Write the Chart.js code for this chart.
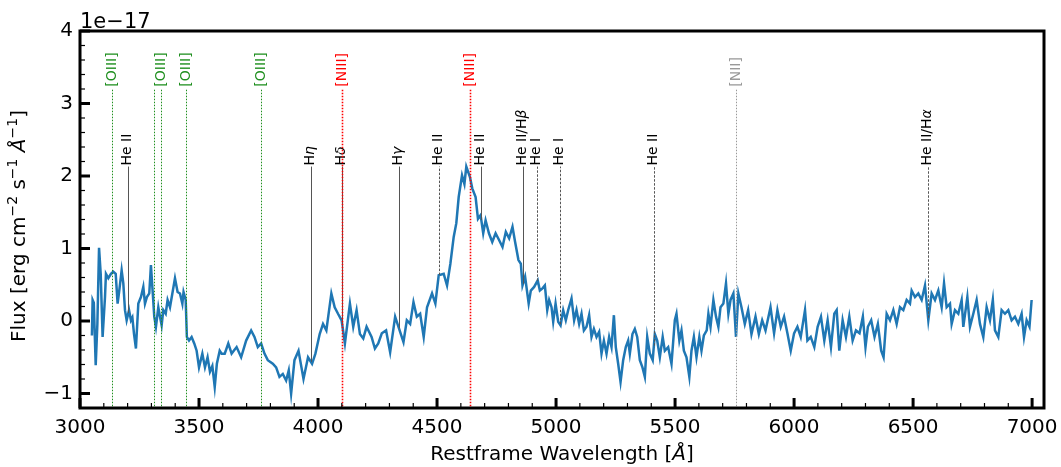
<!DOCTYPE html>
<html>
<head>
<meta charset="utf-8">
<script src="https://cdn.jsdelivr.net/npm/chart.js@4.4.1/dist/chart.umd.min.js"></script>
<style>
  html, body { margin: 0; padding: 0; background: #fff; }
  #wrap { width: 1061px; height: 467px; }
</style>
</head>
<body>
<div id="wrap"><canvas id="spectrum" width="1061" height="467"></canvas></div>
<script>
// restframe wavelength [A] and flux [1e-17 erg/cm2/s/A]
const wavelength = [
  3050, 3053, 3058, 3066, 3073, 3080, 3087, 3095, 3105, 3109, 3119, 3130, 3140, 3150, 3158, 3165,
  3175, 3182, 3189, 3196, 3206, 3214, 3220, 3227, 3235, 3245, 3256, 3266, 3273, 3281, 3291, 3298,
  3305, 3312, 3319, 3329, 3336, 3343, 3350, 3360, 3368, 3378, 3388, 3399, 3410, 3420, 3430, 3435,
  3444, 3449, 3458, 3469, 3480, 3490, 3500, 3514, 3525, 3536, 3546, 3556, 3566, 3575, 3587, 3595,
  3608, 3623, 3637, 3658, 3677, 3698, 3719, 3733, 3747, 3761, 3775, 3789, 3810, 3824, 3838, 3852,
  3866, 3877, 3887, 3901, 3918, 3939, 3958, 3975, 3989, 4007, 4021, 4035, 4056, 4070, 4084, 4099,
  4113, 4134, 4148, 4162, 4176, 4190, 4204, 4225, 4239, 4253, 4268, 4286, 4303, 4324, 4338, 4359,
  4373, 4387, 4401, 4415, 4429, 4444, 4458, 4479, 4493, 4507, 4528, 4542, 4556, 4570, 4581, 4591,
  4605, 4615, 4623, 4638, 4648, 4662, 4672, 4683, 4694, 4704, 4718, 4732, 4746, 4760, 4775, 4789,
  4803, 4817, 4828, 4842, 4852, 4859, 4870, 4885, 4894, 4908, 4923, 4932, 4943, 4953, 4963, 4971,
  4981, 4988, 4998, 5009, 5019, 5030, 5041, 5051, 5065, 5076, 5086, 5097, 5107, 5117, 5128, 5139,
  5149, 5159, 5170, 5181, 5191, 5201, 5212, 5223, 5233, 5243, 5251, 5261, 5271, 5282, 5293, 5303,
  5310, 5321, 5331, 5341, 5352, 5363, 5373, 5383, 5394, 5406, 5415, 5425, 5436, 5448, 5457, 5471,
  5485, 5499, 5506, 5518, 5527, 5537, 5548, 5560, 5569, 5579, 5590, 5602, 5611, 5621, 5633, 5640,
  5649, 5661, 5672, 5682, 5691, 5703, 5714, 5724, 5733, 5745, 5756, 5766, 5779, 5793, 5807, 5821,
  5838, 5852, 5866, 5880, 5901, 5916, 5930, 5944, 5958, 5972, 5986, 6000, 6014, 6028, 6046, 6056,
  6070, 6085, 6099, 6113, 6127, 6141, 6155, 6169, 6179, 6190, 6204, 6218, 6232, 6246, 6260, 6275,
  6289, 6300, 6310, 6324, 6338, 6352, 6366, 6376, 6389, 6403, 6417, 6431, 6445, 6459, 6473, 6487,
  6494, 6508, 6522, 6536, 6550, 6564, 6578, 6592, 6606, 6620, 6630, 6641, 6655, 6662, 6676, 6690,
  6704, 6711, 6728, 6739, 6753, 6767, 6781, 6795, 6809, 6823, 6835, 6844, 6858, 6872, 6886, 6900,
  6914, 6928, 6942, 6956, 6966, 6977, 6989, 6998
]
const flux = [
  -0.20, 0.29, 0.25, -0.61, -0.04, 1.01, 0.65, -0.22, 0.33, 0.65, 0.59, 0.65, 0.68, 0.65, 0.24, 0.42,
  0.70, 0.52, 0.15, 0.01, 0.15, 0.01, 0.05, -0.18, -0.38, 0.24, 0.33, 0.47, 0.24, 0.33, 0.38, 0.77,
  0.42, 0.06, -0.08, 0.19, 0.06, -0.06, 0.15, 0.10, 0.29, 0.19, 0.38, 0.59, 0.40, 0.38, 0.24, 0.40,
  0.29, -0.22, -0.27, -0.22, -0.31, -0.41, -0.64, -0.45, -0.64, -0.50, -0.70, -0.62, -0.91, -0.59, -0.41, -0.45,
  -0.45, -0.31, -0.45, -0.36, -0.50, -0.27, -0.13, -0.22, -0.36, -0.31, -0.45, -0.54, -0.59, -0.64, -0.77, -0.73,
  -0.82, -0.68, -1.00, -0.54, -0.41, -0.80, -0.50, -0.59, -0.45, -0.18, -0.04, -0.13, 0.38, 0.19, 0.10, 0.01,
  -0.31, 0.24, -0.08, 0.15, -0.18, -0.24, -0.08, -0.22, -0.38, -0.31, -0.17, -0.13, -0.43, 0.06, -0.08, -0.29,
  0.01, -0.04, 0.26, 0.06, 0.10, -0.22, 0.19, 0.38, 0.24, 0.63, 0.65, 0.49, 0.79, 1.16, 1.35, 1.71,
  2.01, 1.89, 2.13, 1.99, 1.83, 1.71, 1.41, 1.46, 1.21, 1.39, 1.21, 1.09, 1.21, 1.12, 1.02, 1.23,
  1.14, 1.30, 1.09, 0.84, 0.79, 0.49, 0.61, 0.24, 0.42, 0.47, 0.56, 0.42, 0.45, 0.49, 0.15, 0.29,
  0.19, -0.01, 0.24, -0.01, -0.06, 0.15, 0.01, 0.15, 0.31, 0.01, 0.15, -0.04, 0.10, -0.13, -0.08, 0.08,
  -0.22, -0.11, -0.22, -0.15, -0.45, -0.27, -0.45, -0.22, -0.36, 0.08, -0.36, -0.59, -0.84, -0.54, -0.36, -0.27,
  -0.45, -0.18, -0.11, -0.22, -0.54, -0.64, -0.77, -0.22, -0.45, -0.54, -0.18, -0.27, -0.50, -0.22, -0.41, -0.36,
  -0.59, 0.01, 0.10, -0.27, -0.13, -0.41, -0.50, -0.77, -0.41, -0.22, -0.50, -0.22, -0.41, -0.20, -0.13, 0.10,
  -0.08, 0.29, 0.06, -0.08, 0.19, 0.24, 0.52, 0.10, 0.29, 0.38, -0.22, 0.38, 0.19, -0.04, 0.15, -0.18,
  0.06, -0.18, 0.01, -0.13, 0.19, -0.17, 0.15, -0.08, 0.06, -0.17, -0.41, -0.17, -0.08, -0.22, 0.15, -0.27,
  -0.22, -0.36, -0.08, 0.06, -0.27, 0.01, -0.36, 0.10, 0.15, -0.41, 0.01, -0.22, 0.06, -0.27, -0.13, -0.17,
  0.06, -0.36, -0.08, 0.01, -0.22, -0.04, -0.41, -0.50, 0.10, 0.01, 0.15, -0.04, 0.19, 0.15, 0.29, 0.24,
  0.42, 0.33, 0.38, 0.29, 0.49, 0.01, 0.38, 0.29, 0.42, 0.19, 0.52, 0.19, 0.24, -0.04, 0.15, 0.10,
  0.29, -0.08, 0.33, -0.08, 0.10, 0.29, -0.04, -0.22, 0.19, 0.01, 0.29, -0.13, -0.22, 0.15, 0.10, 0.15,
  0.01, 0.06, -0.04, 0.10, -0.22, 0.01, -0.08, 0.29
]

// forbidden lines, marked over the full height ('' = line drawn without its own label)
const forbiddenNames = ['[OIII]', '', '[OIII]', '[OIII]', '[OIII]', '[NIII]', '[NIII]', '[NII]']
const forbiddenWaves = [3133, 3312, 3341, 3444, 3760, 4100, 4640, 5755]
const forbiddenIons  = ['[OIII]', '[OIII]', '[OIII]', '[OIII]', '[OIII]', '[NIII]', '[NIII]', '[NII]']

// permitted lines, marked from the spectrum up to the label
const permittedNames = ['He II', 'H\u03B7', 'H\u03B4', 'H\u03B3', 'He II', 'He II', 'He II/H\u03B2', 'He I', 'He I', 'He II', 'He II/H\u03B1']
const permittedWaves = [3203, 3970, 4102, 4340, 4510, 4686, 4861, 4922, 5016, 5411, 6563]

const xTicks = [3000, 3500, 4000, 4500, 5000, 5500, 6000, 6500, 7000]
const yTicks = [-1, 0, 1, 2, 3, 4]

// styles
const ionColor = { '[OIII]': '#1f8f1f', '[NIII]': '#ff0000', '[NII]': '#999999' }
const dashedWaves = [4510, 4922, 5016, 5411, 6563]
const FONT = 'DejaVu Sans'

Chart.defaults.font.family = FONT
Chart.defaults.color = '#000'

function fluxAt(w) {
    let i = wavelength.findIndex(v => v >= w)
    if (i <= 0) return flux[Math.max(i, 0)]
    const t = (w - wavelength[i - 1]) / (wavelength[i] - wavelength[i - 1])
    return flux[i - 1] + t * (flux[i] - flux[i - 1])
}

// rotated (-90deg) text made of runs [text, size, raise, italic]; align 'center' or 'start'
function vText(ctx, x, y, parts, align) {
    ctx.save()
    ctx.translate(x, y)
    ctx.rotate(-Math.PI / 2)
    const fontOf = p => (p[3] ? 'italic ' : '') + p[1] + 'px "' + FONT + '"'
    let total = 0
    parts.forEach(p => { ctx.font = fontOf(p); total += ctx.measureText(p[0]).width })
    let cx = align === 'start' ? 0 : -total / 2
    ctx.textAlign = 'left'
    ctx.textBaseline = 'middle'
    parts.forEach(p => {
        ctx.font = fontOf(p)
        ctx.fillText(p[0], cx, -p[2])
        cx += ctx.measureText(p[0]).width
    })
    ctx.restore()
}

// greek letters in the line names are set in italic, as in math text
function nameRuns(name, size) {
    return name.split(/([\u03B1-\u03C9])/).filter(s => s).map(s => [s, size, 0, /[\u03B1-\u03C9]/.test(s)])
}

const markers = {
    id: 'markers',
    afterDatasetsDraw(chart) {
        const { ctx, scales: { x, y } } = chart
        ctx.save()
        // permitted lines: thin grey from the spectrum up to the label
        permittedWaves.forEach((w, i) => {
            const px = Math.round(x.getPixelForValue(w)) + 0.5
            const top = y.getPixelForValue(2.13)
            ctx.beginPath()
            ctx.setLineDash(dashedWaves.includes(w) ? [2.5, 1.5] : [])
            ctx.strokeStyle = '#555'
            ctx.lineWidth = 1
            ctx.moveTo(px, y.getPixelForValue(fluxAt(w)))
            ctx.lineTo(px, top)
            ctx.stroke()
            ctx.fillStyle = '#000'
            vText(ctx, px - 1, top - 1, nameRuns(permittedNames[i], 14), 'start')
        })
        // forbidden lines: coloured dotted over the whole plot
        forbiddenWaves.forEach((w, i) => {
            const col = ionColor[forbiddenIons[i]]
            const px = Math.round(x.getPixelForValue(w)) + 0.5
            const top = y.getPixelForValue(3.19)
            ctx.beginPath()
            ctx.setLineDash([1.5, 1.5])
            ctx.strokeStyle = col
            ctx.lineWidth = forbiddenIons[i] === '[NIII]' ? 1.6 : 1
            ctx.moveTo(px, top)
            ctx.lineTo(px, y.bottom)
            ctx.stroke()
            if (!forbiddenNames[i]) return
            ctx.fillStyle = col
            vText(ctx, px, top - 3, [[forbiddenNames[i], 14, 0]], 'start')
        })
        ctx.restore()
    },
    afterDraw(chart) {
        const { ctx, chartArea: a, scales: { x, y } } = chart
        ctx.save()
        ctx.strokeStyle = '#000'
        // inward ticks, left and bottom
        for (let v = 3000; v <= 7000; v += 100) {
            const major = v % 500 === 0
            const px = x.getPixelForValue(v)
            ctx.lineWidth = major ? 3 : 1.2
            ctx.beginPath()
            ctx.moveTo(px, a.bottom)
            ctx.lineTo(px, a.bottom - (major ? 10 : 5))
            ctx.stroke()
        }
        for (let k = -5; k <= 20; k++) {
            const major = k % 5 === 0
            const py = y.getPixelForValue(k / 5)
            ctx.lineWidth = major ? 3 : 1.2
            ctx.beginPath()
            ctx.moveTo(a.left, py)
            ctx.lineTo(a.left + (major ? 10 : 5), py)
            ctx.stroke()
        }
        // frame
        ctx.lineWidth = 3
        ctx.strokeRect(a.left, a.top, a.right - a.left, a.bottom - a.top)
        // offset text
        ctx.fillStyle = '#000'
        ctx.font = '21px "' + FONT + '"'
        ctx.textAlign = 'left'
        ctx.textBaseline = 'alphabetic'
        ctx.fillText('1e\u221217', a.left, 28)
        // axis titles
        vText(ctx, 20, 226, [
            ['Flux [erg cm', 20, 0], ['\u22122', 14, 7], [' s', 20, 0], ['\u22121', 14, 7],
            [' ', 20, 0], ['Å', 20, 0, true], ['\u22121', 14, 7], [']', 20, 0]
        ])
        ctx.save()
        ctx.translate((a.left + a.right) / 2, 455)
        ctx.rotate(Math.PI / 2)
        vText(ctx, 0, 0, [['Restframe Wavelength [', 20, 0], ['Å', 20, 0, true], [']', 20, 0]])
        ctx.restore()
        ctx.restore()
    }
}

new Chart(document.getElementById('spectrum'), {
    type: 'line',
    data: {
        datasets: [{
            data: wavelength.map((w, i) => ({ x: w, y: flux[i] })),
            borderColor: '#1f77b4',
            borderWidth: 2.5,
            pointRadius: 0,
            tension: 0,
            fill: false
        }]
    },
    options: {
        responsive: false,
        animation: false,
        devicePixelRatio: 1,
        layout: { padding: { top: 31, right: 17, left: 0, bottom: 0 } },
        plugins: { legend: { display: false }, tooltip: { enabled: false } },
        scales: {
            x: {
                type: 'linear',
                min: 3000,
                max: 7050,
                grid: { display: false, drawTicks: false },
                border: { display: false },
                afterBuildTicks: s => { s.ticks = xTicks.map(v => ({ value: v })) },
                afterFit: s => { s.height = 59; s.paddingLeft = 0; s.paddingRight = 0 },
                ticks: { font: { size: 20 }, padding: 8, maxRotation: 0, callback: v => String(v) }
            },
            y: {
                min: -1.2,
                max: 4,
                grid: { display: false, drawTicks: false },
                border: { display: false },
                afterBuildTicks: s => { s.ticks = yTicks.map(v => ({ value: v })) },
                afterFit: s => { s.width = 80; s.paddingTop = 0; s.paddingBottom = 0 },
                ticks: { font: { size: 20 }, padding: 7, callback: v => String(v).replace('-', '\u2212') }
            }
        }
    },
    plugins: [markers]
})
</script>
</body>
</html>
